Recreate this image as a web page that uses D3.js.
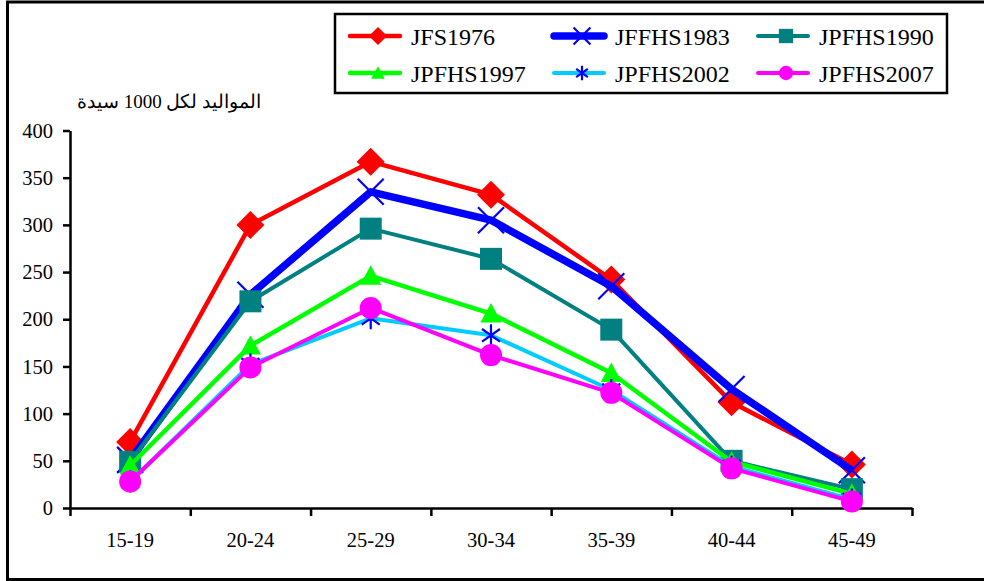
<!DOCTYPE html>
<html><head><meta charset="utf-8">
<script src="https://cdn.jsdelivr.net/npm/d3@7"></script>
<style>body{margin:0;background:#fff}svg{display:block}
svg text{font-family:"Liberation Serif","DejaVu Serif",serif !important;}
</style>
</head><body>
<svg id="c" width="984" height="581"></svg>
<script>
const categories = ["15-19","20-24","25-29","30-34","35-39","40-44","45-49"];
const seriesNames = ["JFS1976","JFFHS1983","JPFHS1990","JPFHS1997","JPFHS2002","JPFHS2007"];
const JFS1976   = [70, 300, 367, 332, 242, 112, 46];
const JFFHS1983 = [51, 226, 335, 305, 235, 126, 40];
const JPFHS1990 = [49, 219, 296, 264, 189, 50, 20];
const JPFHS1997 = [45, 172, 246, 206, 143, 49, 15];
const JPFHS2002 = [28, 152, 201, 183, 125, 44, 9];
const JPFHS2007 = [28, 149, 212, 162, 122, 42, 7];
const yTicks = [0,50,100,150,200,250,300,350,400];
const yTitle = "المواليد لكل 1000 سيدة";

const seriesValues = [JFS1976, JFFHS1983, JPFHS1990, JPFHS1997, JPFHS2002, JPFHS2007];
const styles = [
  {color:"#FF0000", width:4.5, marker:"diamond"},
  {color:"#0000FF", width:7.5, marker:"x"},
  {color:"#008080", width:4,   marker:"square"},
  {color:"#00FF00", width:4.5, marker:"triangle"},
  {color:"#00CCFF", width:4,   marker:"asterisk"},
  {color:"#FF00FF", width:4,   marker:"circle"}
];

const svg = d3.select("#c");

// outer frame
svg.append("rect").attr("x",7.5).attr("y",2).attr("width",990).attr("height",577.5)
  .attr("fill","none").attr("stroke","#000").attr("stroke-width",3);

const x = d3.scaleBand().domain(categories).range([70,912]);
const xEdges = d3.scaleLinear().domain([0,categories.length]).range([70,912]);
const y = d3.scaleLinear().domain([0,400]).range([508,130.5]);
const cx = c => x(c) + x.bandwidth()/2;

// y axis
const gy = svg.append("g").attr("transform","translate(70,0)")
  .call(d3.axisLeft(y).tickValues(yTicks).tickSize(7).tickSizeOuter(0).tickPadding(10));
gy.attr("font-family",null).attr("font-size",null);
gy.selectAll("text").style("font-size","20.5px").attr("fill","#000");

// x axis: boundary ticks + centered labels
const gx = svg.append("g").attr("transform","translate(0,508)")
  .call(d3.axisBottom(xEdges).tickValues(d3.range(categories.length+1)).tickSize(8).tickSizeOuter(0).tickFormat(""));
const gxl = svg.append("g").attr("transform","translate(0,508)")
  .call(d3.axisBottom(x).tickSize(0).tickSizeOuter(0));
gxl.attr("font-family",null).attr("font-size",null);
gxl.select(".domain").remove();
gxl.selectAll("text").style("font-size","20.5px").attr("fill","#000")
  .attr("y",39).attr("dy",0);

svg.selectAll(".domain, .tick line").attr("stroke","#000").attr("stroke-width",2.5);

// y title
svg.append("text").attr("x",169).attr("y",108).attr("text-anchor","middle")
  .style("font-size","19px").attr("direction","rtl").text(yTitle);

// markers
function drawMarker(g, type, color, px, py, s) {
  if (type === "diamond") {
    const h = 14*s;
    g.append("path").attr("d",`M${px},${py-h}L${px+h},${py}L${px},${py+h}L${px-h},${py}Z`).attr("fill",color);
  } else if (type === "x") {
    const h = 13*s;
    g.append("path").attr("d",`M${px-h},${py-h}L${px+h},${py+h}M${px-h},${py+h}L${px+h},${py-h}`)
      .attr("stroke","#0000FF").attr("stroke-width",2.2).attr("fill","none");
  } else if (type === "square") {
    const h = 11*s;
    g.append("rect").attr("x",px-h).attr("y",py-h).attr("width",2*h).attr("height",2*h).attr("fill",color);
  } else if (type === "triangle") {
    const w = 10.5*s, hh = 10.5*s;
    g.append("path").attr("d",`M${px},${py-hh}L${px+w},${py+hh*0.85}L${px-w},${py+hh*0.85}Z`).attr("fill",color);
  } else if (type === "asterisk") {
    const h = 11*s, d = 9*s;
    g.append("path").attr("d",`M${px},${py-h}L${px},${py+h}M${px-d},${py-d*0.7}L${px+d},${py+d*0.7}M${px-d},${py+d*0.7}L${px+d},${py-d*0.7}`)
      .attr("stroke","#0000FF").attr("stroke-width",2.2).attr("fill","none");
  } else if (type === "circle") {
    g.append("circle").attr("cx",px).attr("cy",py).attr("r",11*s).attr("fill",color);
  }
}

const line = d3.line().x((d,i)=>cx(categories[i])).y(d=>y(d));
seriesValues.forEach((vals, si) => {
  const st = styles[si];
  const g = svg.append("g");
  g.append("path").datum(vals).attr("d",line).attr("fill","none")
    .attr("stroke",st.color).attr("stroke-width",st.width).attr("stroke-linejoin","round");
  vals.forEach((v,i) => drawMarker(g, st.marker, st.color, cx(categories[i]), y(v), 1));
});

// legend
svg.append("rect").attr("x",335).attr("y",14).attr("width",612).attr("height",79)
  .attr("fill","#fff").attr("stroke","#000").attr("stroke-width",2.5);
const colX = [350, 554, 758];
const rowY = [36, 73];
seriesNames.forEach((name, i) => {
  const st = styles[i];
  const lx = colX[i%3], ly = rowY[Math.floor(i/3)];
  const g = svg.append("g");
  g.append("line").attr("x1",lx).attr("x2",lx+50).attr("y1",ly).attr("y2",ly)
    .attr("stroke",st.color).attr("stroke-width",st.width).attr("stroke-linecap","round");
  drawMarker(g, st.marker, st.color, lx+28, ly, 0.65);
  g.append("text").attr("x",lx+61).attr("y",ly+8.5)
    .style("font-size","24px").attr("fill","#000").text(name);
});
</script>
</body></html>
